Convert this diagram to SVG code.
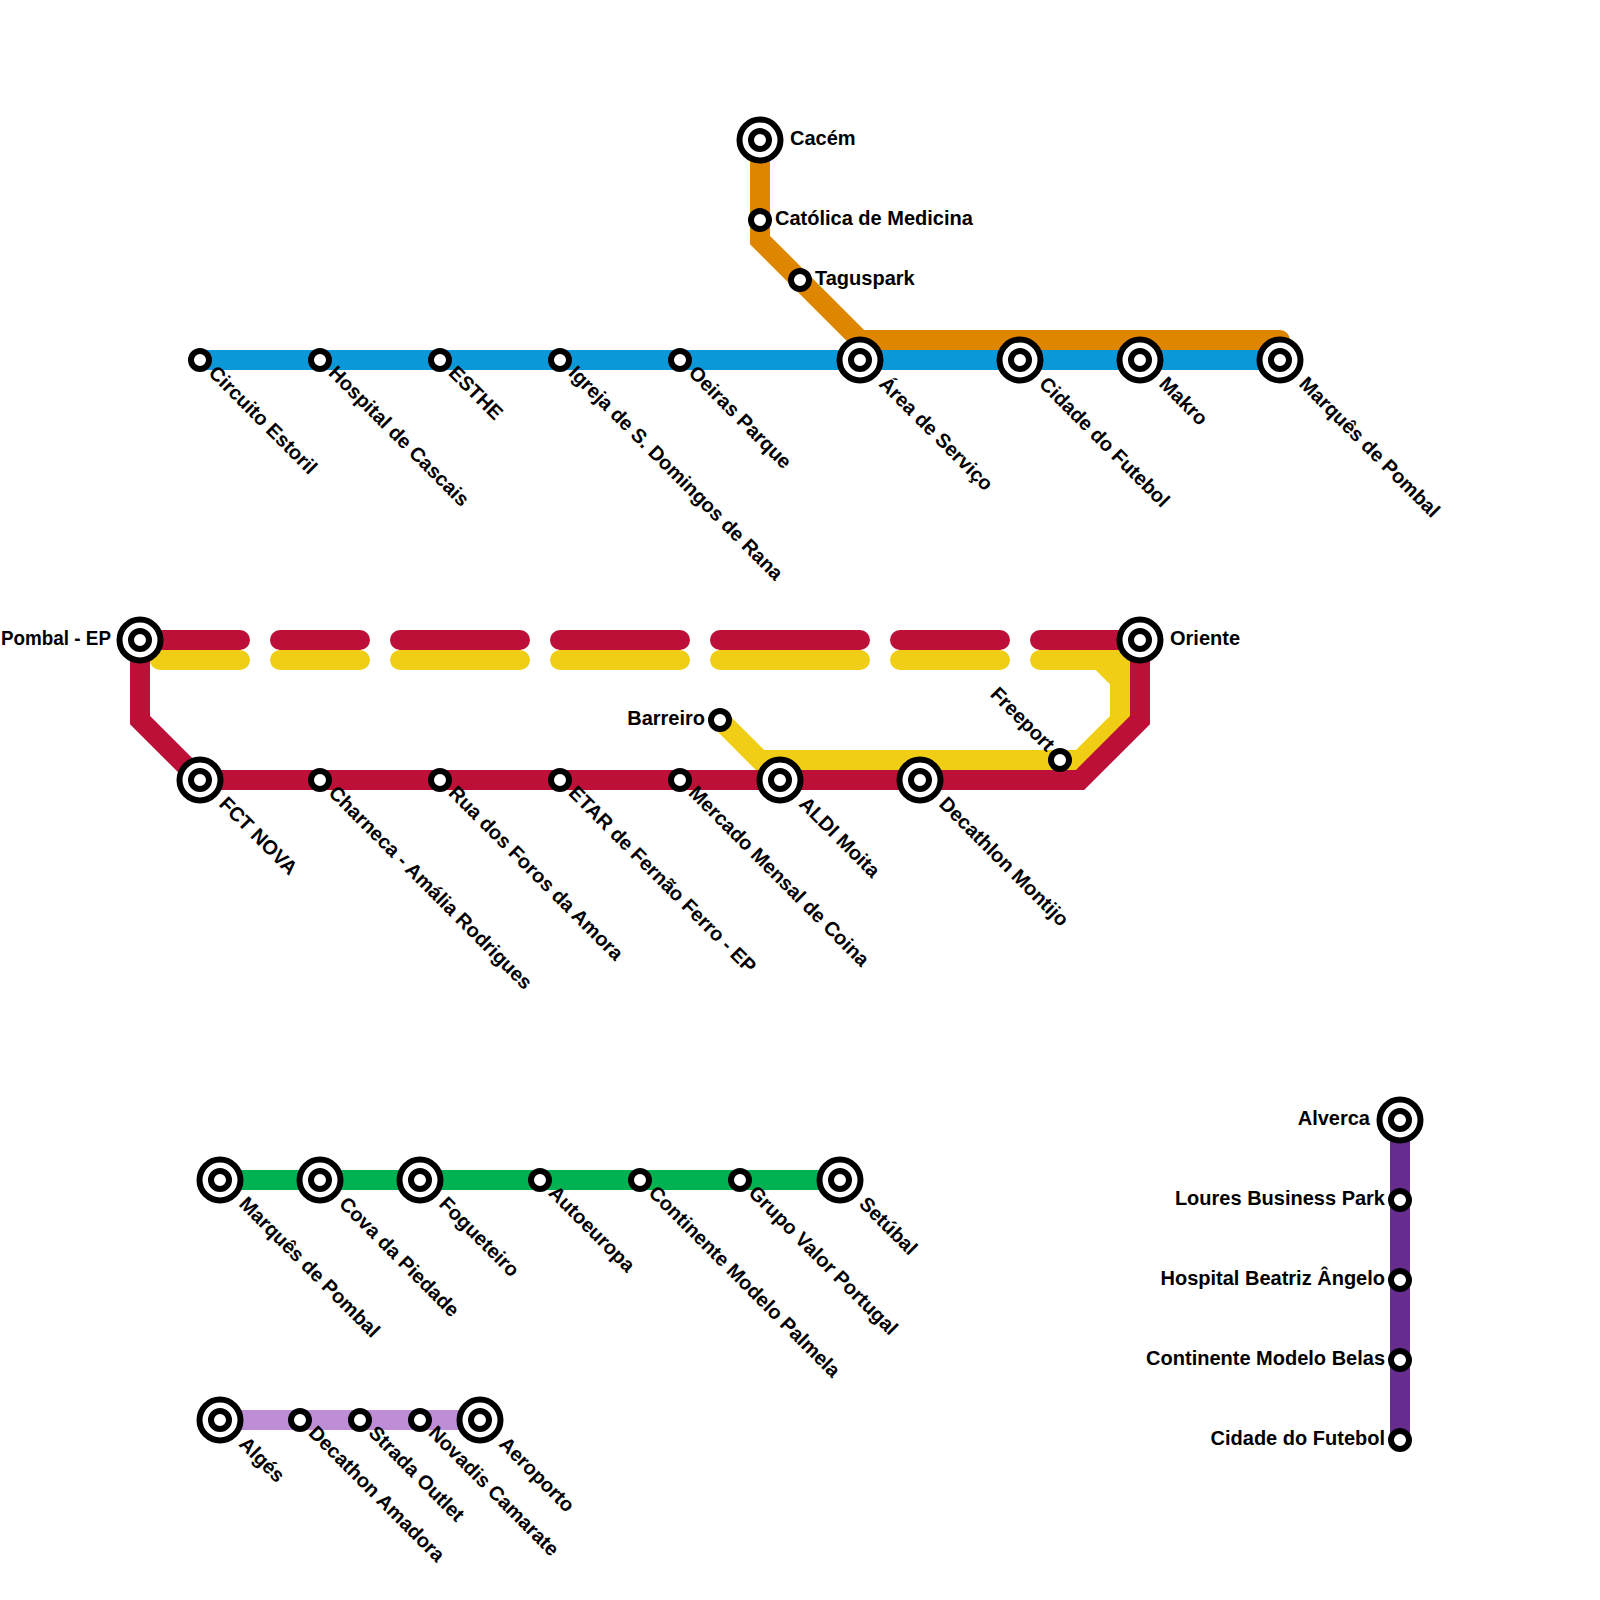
<svg xmlns="http://www.w3.org/2000/svg" width="1600" height="1600" viewBox="0 0 1600 1600">
<style>
.l{fill:none;stroke-width:20;stroke-linejoin:miter}
.c{stroke-linecap:round}
.r{stroke-linejoin:round}
.o{fill:#fff;stroke:#000;stroke-width:6}
.i{fill:#fff;stroke:#000;stroke-width:6}
text{font-family:"Liberation Sans",Arial,sans-serif;font-weight:bold;font-size:20px;fill:#000}
.e{text-anchor:end}
</style>
<rect width="1600" height="1600" fill="#fff"/>
<g id="connectors">
<path class="l" stroke="#0a98d8" d="M200 360H1280"/>
<path class="l" stroke="#df8600" d="M760 140V240L860 340H1260"/>
<path class="l r" stroke="#df8600" d="M1260 340H1280V360"/>
<path class="l" stroke="#00b251" d="M220 1180H840"/>
<path class="l" stroke="#bf8dd5" d="M220 1420H480"/>
<path class="l" stroke="#662c90" d="M1400 1120V1440"/>
<path class="l c" stroke="#f0ce15" d="M160 660H240M280 660H360M400 660H520M560 660H680M720 660H860M900 660H1000"/>
<path class="l c" stroke="#f0ce15" d="M720 720L760 760H1080L1120 720V680L1100 660H1040"/>
<path fill="#f0ce15" d="M1096 650H1130V690L1110 684L1096 670Z"/>
<path class="l c" stroke="#bd1038" d="M140 640H240M280 640H360M400 640H520M560 640H680M720 640H860M900 640H1000M1040 640H1140"/>
<path class="l" stroke="#bd1038" d="M1140 640V720L1080 780H200L140 720V640"/>
</g>
<g id="n-circuito"><circle class="i" cx="200" cy="360" r="9"/><text transform="translate(207.5 374) rotate(45)">Circuito Estoril</text></g>
<g id="n-hospital-cascais"><circle class="i" cx="320" cy="360" r="9"/><text transform="translate(327.5 374) rotate(45)">Hospital de Cascais</text></g>
<g id="n-esthe"><circle class="i" cx="440" cy="360" r="9"/><text transform="translate(447.5 374) rotate(45)">ESTHE</text></g>
<g id="n-igreja"><circle class="i" cx="560" cy="360" r="9"/><text transform="translate(567.5 374) rotate(45)">Igreja de S. Domingos de Rana</text></g>
<g id="n-oeiras"><circle class="i" cx="680" cy="360" r="9"/><text transform="translate(687.5 374) rotate(45)">Oeiras Parque</text></g>
<g id="n-area"><circle class="o" cx="860" cy="360" r="20.5"/><circle class="i" cx="860" cy="360" r="9"/><text transform="translate(878 385) rotate(45)">Área de Serviço</text></g>
<g id="n-cidade"><circle class="o" cx="1020" cy="360" r="20.5"/><circle class="i" cx="1020" cy="360" r="9"/><text transform="translate(1038 385) rotate(45)">Cidade do Futebol</text></g>
<g id="n-makro"><circle class="o" cx="1140" cy="360" r="20.5"/><circle class="i" cx="1140" cy="360" r="9"/><text transform="translate(1158 385) rotate(45)">Makro</text></g>
<g id="n-marques"><circle class="o" cx="1280" cy="360" r="20.5"/><circle class="i" cx="1280" cy="360" r="9"/><text transform="translate(1298 385) rotate(45)">Marquês de Pombal</text></g>
<g id="n-cacem"><circle class="o" cx="760" cy="140" r="20.5"/><circle class="i" cx="760" cy="140" r="9"/><text x="790" y="145">Cacém</text></g>
<g id="n-catolica"><circle class="i" cx="760" cy="220" r="9"/><text x="775" y="225">Católica de Medicina</text></g>
<g id="n-taguspark"><circle class="i" cx="800" cy="280" r="9"/><text x="815" y="285">Taguspark</text></g>
<g id="n-pombal-ep"><circle class="o" cx="140" cy="640" r="20.5"/><circle class="i" cx="140" cy="640" r="9"/><text x="1" y="645" textLength="110" lengthAdjust="spacingAndGlyphs">Pombal - EP</text></g>
<g id="n-oriente"><circle class="o" cx="1140" cy="640" r="20.5"/><circle class="i" cx="1140" cy="640" r="9"/><text x="1170" y="645">Oriente</text></g>
<g id="n-barreiro"><circle class="i" cx="720" cy="720" r="9"/><text class="e" x="705" y="725">Barreiro</text></g>
<g id="n-freeport"><circle class="i" cx="1060" cy="760" r="9"/><text class="e" transform="translate(1046.5 752.5) rotate(45)">Freeport</text></g>
<g id="n-fct"><circle class="o" cx="200" cy="780" r="20.5"/><circle class="i" cx="200" cy="780" r="9"/><text transform="translate(218 805) rotate(45)">FCT NOVA</text></g>
<g id="n-charneca"><circle class="i" cx="320" cy="780" r="9"/><text transform="translate(327.5 794) rotate(45)">Charneca - Amália Rodrigues</text></g>
<g id="n-rua"><circle class="i" cx="440" cy="780" r="9"/><text transform="translate(447.5 794) rotate(45)">Rua dos Foros da Amora</text></g>
<g id="n-etar"><circle class="i" cx="560" cy="780" r="9"/><text transform="translate(567.5 794) rotate(45)">ETAR de Fernão Ferro - EP</text></g>
<g id="n-mercado"><circle class="i" cx="680" cy="780" r="9"/><text transform="translate(687.5 794) rotate(45)">Mercado Mensal de Coina</text></g>
<g id="n-aldi"><circle class="o" cx="780" cy="780" r="20.5"/><circle class="i" cx="780" cy="780" r="9"/><text transform="translate(798 805) rotate(45)">ALDI Moita</text></g>
<g id="n-montijo"><circle class="o" cx="920" cy="780" r="20.5"/><circle class="i" cx="920" cy="780" r="9"/><text transform="translate(938 805) rotate(45)">Decathlon Montijo</text></g>
<g id="n-marques2"><circle class="o" cx="220" cy="1180" r="20.5"/><circle class="i" cx="220" cy="1180" r="9"/><text transform="translate(238 1205) rotate(45)">Marquês de Pombal</text></g>
<g id="n-cova"><circle class="o" cx="320" cy="1180" r="20.5"/><circle class="i" cx="320" cy="1180" r="9"/><text transform="translate(338 1205) rotate(45)">Cova da Piedade</text></g>
<g id="n-fogueteiro"><circle class="o" cx="420" cy="1180" r="20.5"/><circle class="i" cx="420" cy="1180" r="9"/><text transform="translate(438 1205) rotate(45)">Fogueteiro</text></g>
<g id="n-autoeuropa"><circle class="i" cx="540" cy="1180" r="9"/><text transform="translate(547.5 1194) rotate(45)">Autoeuropa</text></g>
<g id="n-palmela"><circle class="i" cx="640" cy="1180" r="9"/><text transform="translate(647.5 1194) rotate(45)">Continente Modelo Palmela</text></g>
<g id="n-grupo"><circle class="i" cx="740" cy="1180" r="9"/><text transform="translate(747.5 1194) rotate(45)">Grupo Valor Portugal</text></g>
<g id="n-setubal"><circle class="o" cx="840" cy="1180" r="20.5"/><circle class="i" cx="840" cy="1180" r="9"/><text transform="translate(858 1205) rotate(45)">Setúbal</text></g>
<g id="n-alges"><circle class="o" cx="220" cy="1420" r="20.5"/><circle class="i" cx="220" cy="1420" r="9"/><text transform="translate(238 1445) rotate(45)">Algés</text></g>
<g id="n-amadora"><circle class="i" cx="300" cy="1420" r="9"/><text transform="translate(307.5 1434) rotate(45)">Decathon Amadora</text></g>
<g id="n-strada"><circle class="i" cx="360" cy="1420" r="9"/><text transform="translate(367.5 1434) rotate(45)">Strada Outlet</text></g>
<g id="n-novadis"><circle class="i" cx="420" cy="1420" r="9"/><text transform="translate(427.5 1434) rotate(45)">Novadis Camarate</text></g>
<g id="n-aeroporto"><circle class="o" cx="480" cy="1420" r="20.5"/><circle class="i" cx="480" cy="1420" r="9"/><text transform="translate(498 1445) rotate(45)">Aeroporto</text></g>
<g id="n-alverca"><circle class="o" cx="1400" cy="1120" r="20.5"/><circle class="i" cx="1400" cy="1120" r="9"/><text class="e" x="1370" y="1125">Alverca</text></g>
<g id="n-loures"><circle class="i" cx="1400" cy="1200" r="9"/><text class="e" x="1385" y="1205">Loures Business Park</text></g>
<g id="n-beatriz"><circle class="i" cx="1400" cy="1280" r="9"/><text class="e" x="1385" y="1285">Hospital Beatriz Ângelo</text></g>
<g id="n-belas"><circle class="i" cx="1400" cy="1360" r="9"/><text class="e" x="1385" y="1365">Continente Modelo Belas</text></g>
<g id="n-futebol2"><circle class="i" cx="1400" cy="1440" r="9"/><text class="e" x="1385" y="1445">Cidade do Futebol</text></g>
</svg>
